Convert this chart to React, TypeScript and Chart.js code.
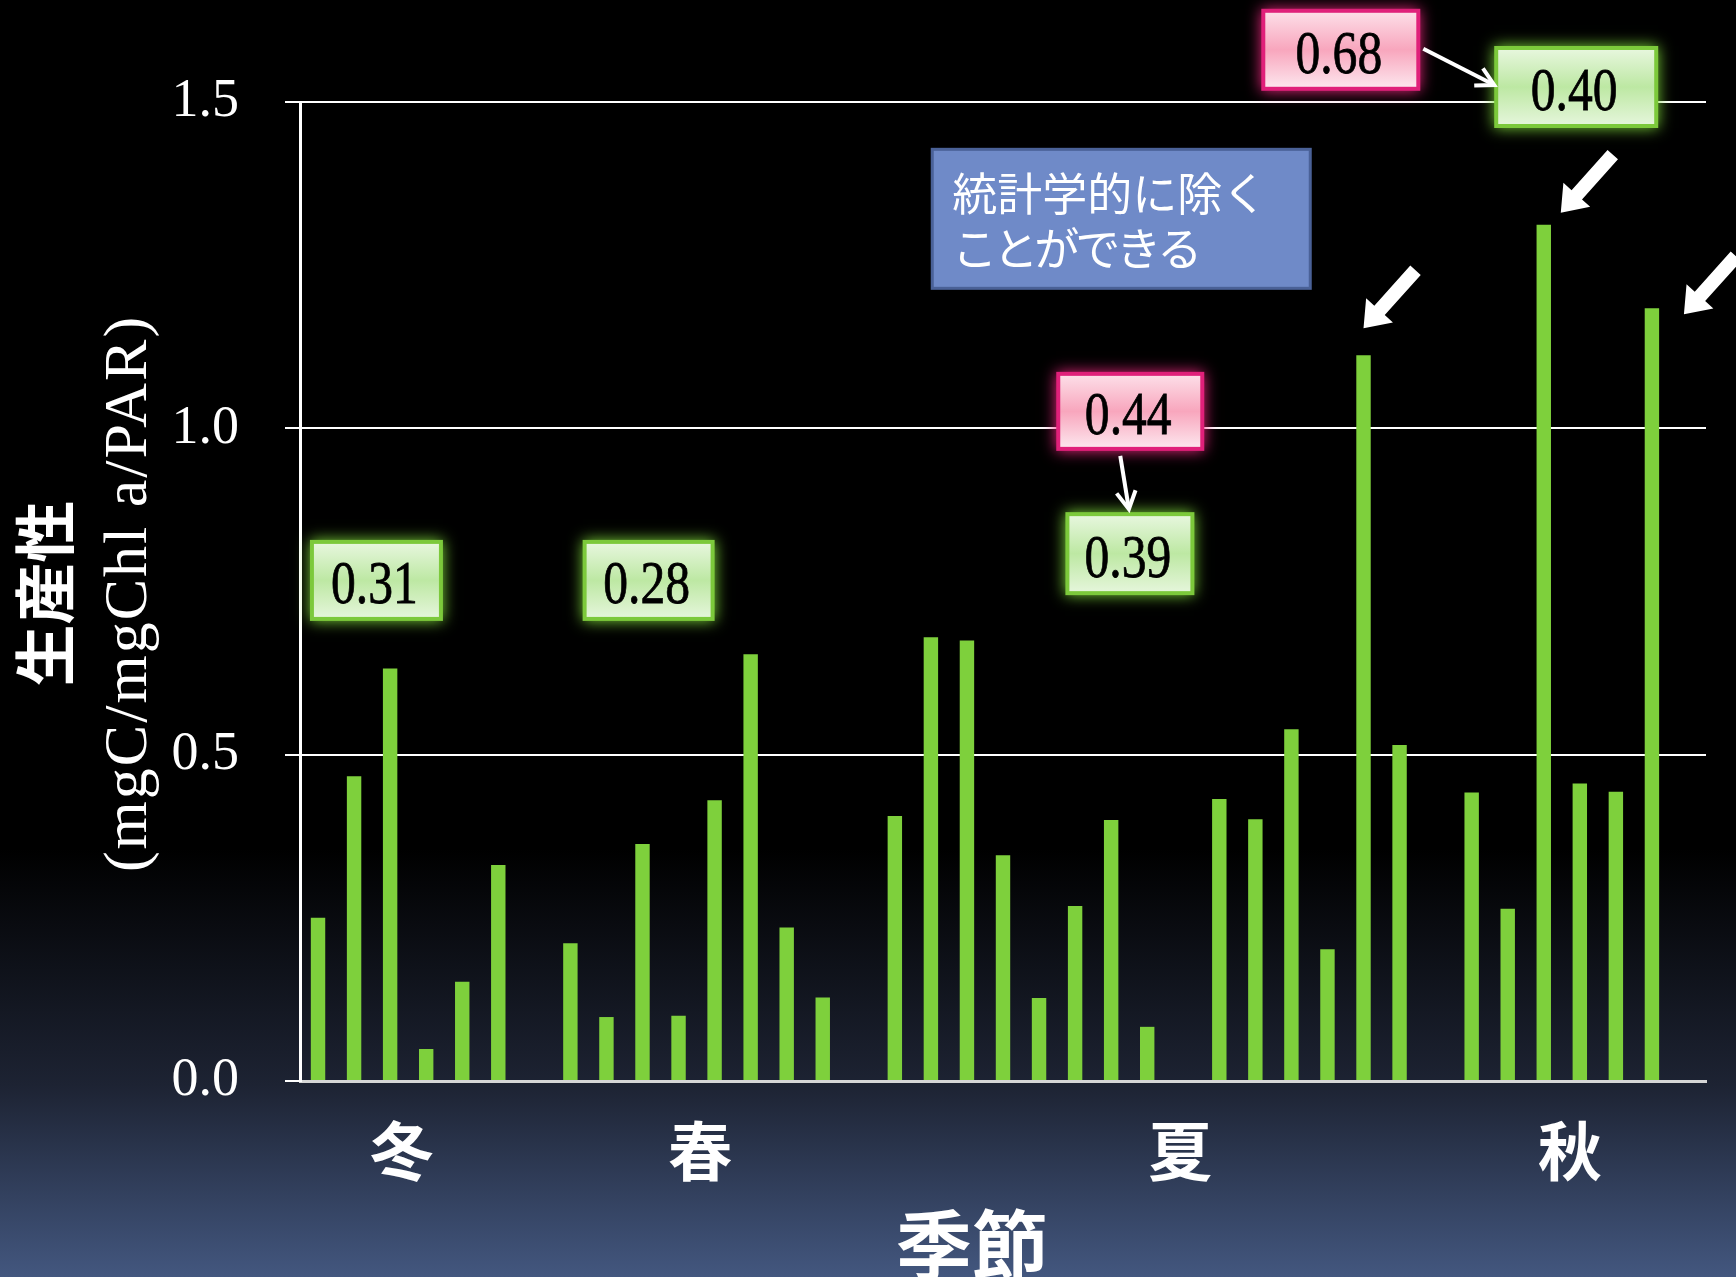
import React, { useEffect, useRef } from 'react';
import { Chart, registerables } from 'chart.js';

Chart.register(...registerables);

// ---------------- data ----------------
const winterValues = [0.25, 0.467, 0.632, 0.049, 0.152, 0.331];
const springValues = [0.211, 0.098, 0.363, 0.1, 0.43, 0.654, 0.235, 0.128];
const summerValues = [0.406, 0.68, 0.675, 0.346, 0.127, 0.268, 0.4, 0.083, null, 0.432, 0.401, 0.539, 0.202, 1.112, 0.515];
const autumnValues = [0.442, 0.264, 1.312, 0.456, 0.443, 1.184];

const seasonNames = ['冬', '春', '夏', '秋'];
const seasonLabelIndex = [2.32, 10.6, 23.92, 34.73];

const yTickValues = [0, 0.5, 1.0, 1.5];
const yTitleMain = '生産性';
const yTitleUnit = '(mgC/mgChl a/PAR)';
const xTitle = '季節';

const noteTexts = ['0.31', '0.28', '0.44', '0.39', '0.68', '0.40'];
const blueNoteLines = ['統計学的に除く', 'ことができる'];
const outlierBars = [29, 34, 37];

// build the category table
const values: (number | null)[] = [
  ...winterValues, null,
  ...springValues, null,
  ...summerValues, null,
  ...autumnValues, null,
];
const categories = values.map((_, i) => `#${i + 1}`);

// ---------------- annotation layout (category index / value anchors) ----------------
const noteLayout = [
  { kind: 'green', ix: 1.62, v: 0.767, w: 129, h: 77 },
  { kind: 'green', ix: 9.17, v: 0.767, w: 128, h: 77 },
  { kind: 'pink', ix: 22.53, v: 1.026, w: 144, h: 75 },
  { kind: 'green', ix: 22.52, v: 0.808, w: 125, h: 79 },
  { kind: 'pink', ix: 28.37, v: 1.58, w: 155, h: 78 },
  { kind: 'green', ix: 34.9, v: 1.523, w: 160, h: 78 },
];
const blueLayout = { ix: 22.28, v: 1.321, w: 378, h: 139 };
const arrowTipOffsets = [
  [0, -27],
  [17, -12],
  [32, 6],
];

type Box = { l: number; t: number; r: number; b: number; cx: number; cy: number };

function drawNoteBox(ctx: CanvasRenderingContext2D, box: Box, kind: string, text: string) {
  const w = box.r - box.l;
  const h = box.b - box.t;
  const isPink = kind === 'pink';
  const border = isPink ? '#e0207a' : '#7cc93b';
  const glow = isPink ? 'rgba(240,40,130,0.95)' : 'rgba(130,220,60,0.95)';
  const g = ctx.createLinearGradient(0, box.t, 0, box.b);
  if (isPink) {
    g.addColorStop(0, '#fde0e9');
    g.addColorStop(0.5, '#f8a6bd');
    g.addColorStop(1, '#fde8ef');
  } else {
    g.addColorStop(0, '#e8f7df');
    g.addColorStop(0.5, '#bde8a3');
    g.addColorStop(1, '#e6f6dc');
  }
  ctx.save();
  ctx.shadowColor = glow;
  ctx.shadowBlur = 14;
  ctx.fillStyle = border;
  ctx.fillRect(box.l - 2, box.t - 2, w + 4, h + 4);
  ctx.restore();
  ctx.save();
  ctx.fillStyle = g;
  ctx.fillRect(box.l + 2, box.t + 2, w - 4, h - 4);
  ctx.fillStyle = '#000';
  ctx.strokeStyle = '#000';
  ctx.lineWidth = 0.8;
  ctx.font = '62px "Liberation Serif"';
  ctx.textAlign = 'center';
  ctx.textBaseline = 'alphabetic';
  ctx.translate(box.cx - 2, box.cy + 23);
  ctx.scale(0.8, 1);
  ctx.fillText(text, 0, 0);
  ctx.strokeText(text, 0, 0);
  ctx.restore();
}

function thinArrow(ctx: CanvasRenderingContext2D, x1: number, y1: number, x2: number, y2: number) {
  const a = Math.atan2(y2 - y1, x2 - x1);
  const hl = 20;
  const sp = 0.5;
  ctx.save();
  ctx.strokeStyle = '#fff';
  ctx.lineWidth = 4;
  ctx.lineCap = 'butt';
  ctx.lineJoin = 'miter';
  ctx.beginPath();
  ctx.moveTo(x1, y1);
  ctx.lineTo(x2 - Math.cos(a) * 2, y2 - Math.sin(a) * 2);
  ctx.stroke();
  ctx.beginPath();
  ctx.moveTo(x2 - hl * Math.cos(a - sp), y2 - hl * Math.sin(a - sp));
  ctx.lineTo(x2, y2);
  ctx.lineTo(x2 - hl * Math.cos(a + sp), y2 - hl * Math.sin(a + sp));
  ctx.stroke();
  ctx.restore();
}

function blockArrow(ctx: CanvasRenderingContext2D, tipX: number, tipY: number, tailX: number, tailY: number) {
  const shaftW = 14;
  const headW = 36;
  const headL = 24;
  const dx = tailX - tipX;
  const dy = tailY - tipY;
  const len = Math.hypot(dx, dy);
  const ux = dx / len;
  const uy = dy / len;
  const px = -uy;
  const py = ux;
  const bx = tipX + ux * headL;
  const by = tipY + uy * headL;
  ctx.save();
  ctx.fillStyle = '#fff';
  ctx.beginPath();
  ctx.moveTo(tipX, tipY);
  ctx.lineTo(bx + (px * headW) / 2, by + (py * headW) / 2);
  ctx.lineTo(bx + (px * shaftW) / 2, by + (py * shaftW) / 2);
  ctx.lineTo(tailX + (px * shaftW) / 2, tailY + (py * shaftW) / 2);
  ctx.lineTo(tailX - (px * shaftW) / 2, tailY - (py * shaftW) / 2);
  ctx.lineTo(bx - (px * shaftW) / 2, by - (py * shaftW) / 2);
  ctx.lineTo(bx - (px * headW) / 2, by - (py * headW) / 2);
  ctx.closePath();
  ctx.fill();
  ctx.restore();
}

const decoPlugin = {
  id: 'deco',
  beforeDraw(chart: any) {
    const { ctx, width, height } = chart;
    const g = ctx.createLinearGradient(0, 0, 0, height);
    g.addColorStop(0, '#000000');
    g.addColorStop(0.665, '#000000');
    g.addColorStop(0.85, '#1d2333');
    g.addColorStop(1, '#43577f');
    ctx.save();
    ctx.fillStyle = g;
    ctx.fillRect(0, 0, width, height);
    ctx.restore();
  },
  afterDraw(chart: any) {
    const { ctx, chartArea: area } = chart;
    const xs = chart.scales.x;
    const ys = chart.scales.y;
    const cy = (area.top + area.bottom) / 2;

    // y axis titles
    ctx.save();
    ctx.fillStyle = '#fff';
    ctx.textAlign = 'center';
    ctx.textBaseline = 'middle';
    ctx.save();
    ctx.translate(area.left - 255, cy + 2);
    ctx.rotate(-Math.PI / 2);
    ctx.font = 'bold 62px "Noto Sans CJK JP"';
    ctx.fillText(yTitleMain, 0, 0);
    ctx.restore();
    ctx.save();
    ctx.translate(area.left - 170, cy + 2);
    ctx.rotate(-Math.PI / 2);
    ctx.font = '62px "Liberation Serif"';
    (ctx as any).letterSpacing = '2px';
    ctx.fillText(yTitleUnit, 0, 0);
    ctx.restore();

    // season labels
    ctx.font = 'bold 64px "Noto Sans CJK JP"';
    seasonNames.forEach((s, i) => {
      ctx.fillText(s, xs.getPixelForValue(seasonLabelIndex[i]), area.bottom + 70);
    });
    // x title
    ctx.font = 'bold 76px "Noto Sans CJK JP"';
    ctx.fillText(xTitle, area.left + (area.right - area.left) * 0.478, area.bottom + 164);
    ctx.restore();

    // note boxes
    const boxes: Box[] = noteLayout.map((n) => {
      const cx = xs.getPixelForValue(n.ix);
      const cyy = ys.getPixelForValue(n.v);
      return { l: cx - n.w / 2, r: cx + n.w / 2, t: cyy - n.h / 2, b: cyy + n.h / 2, cx, cy: cyy };
    });
    boxes.forEach((b, i) => drawNoteBox(ctx, b, noteLayout[i].kind, noteTexts[i]));

    // blue box
    const bcx = xs.getPixelForValue(blueLayout.ix);
    const bcy = ys.getPixelForValue(blueLayout.v);
    const bl = bcx - blueLayout.w / 2;
    const bt = bcy - blueLayout.h / 2;
    ctx.save();
    ctx.fillStyle = '#6f8ac8';
    ctx.fillRect(bl, bt, blueLayout.w, blueLayout.h);
    ctx.strokeStyle = '#4a6197';
    ctx.lineWidth = 3;
    ctx.strokeRect(bl, bt, blueLayout.w, blueLayout.h);
    ctx.fillStyle = '#fff';
    ctx.font = '45px "Noto Sans CJK JP"';
    ctx.textAlign = 'left';
    ctx.textBaseline = 'middle';
    ctx.fillText(blueNoteLines[0], bl + 20, bt + 45);
    (ctx as any).letterSpacing = '-4px';
    ctx.fillText(blueNoteLines[1], bl + 20, bt + 100);
    ctx.restore();

    // thin arrows between boxes (0.44 -> 0.39, 0.68 -> 0.40)
    const p44 = boxes[2];
    const g39 = boxes[3];
    thinArrow(ctx, p44.cx - 10, p44.b + 7, g39.cx - 1, g39.t - 5);
    const p68 = boxes[4];
    const g40 = boxes[5];
    thinArrow(ctx, p68.r + 5, p68.cy - 1, g40.l - 2, g40.cy - 2);

    // thick arrows to outlier bars
    const meta = chart.getDatasetMeta(0);
    outlierBars.forEach((idx, i) => {
      const el = meta.data[idx];
      const tipX = el.x + arrowTipOffsets[i][0];
      const tipY = el.y + arrowTipOffsets[i][1];
      blockArrow(ctx, tipX, tipY, tipX + 52, tipY - 58);
    });
  },
};

export default function App() {
  const canvasRef = useRef<HTMLCanvasElement | null>(null);

  useEffect(() => {
    document.body.style.margin = '0';
    document.body.style.background = '#000';
    document.body.style.overflow = 'hidden';
    const canvas = canvasRef.current;
    if (!canvas) return;
    const chart = new Chart(canvas, {
      type: 'bar',
      data: {
        labels: categories,
        datasets: [
          {
            data: values as any,
            backgroundColor: '#7ED03C',
            borderWidth: 0,
            barPercentage: 0.4,
            categoryPercentage: 1,
          },
        ],
      },
      options: {
        animation: false,
        responsive: false,
        layout: { padding: { top: 102, right: 30, left: 0, bottom: 0 } },
        plugins: {
          legend: { display: false },
          tooltip: { enabled: false },
          title: { display: false },
        },
        scales: {
          x: {
            type: 'category',
            offset: true,
            grid: { display: false, drawTicks: false },
            border: { display: true, color: '#d6d6d6', width: 3 },
            ticks: { display: false },
            afterFit: (s: any) => {
              s.height = 196;
            },
          },
          y: {
            min: 0,
            max: 1.5,
            afterBuildTicks: (s: any) => {
              s.ticks = yTickValues.map((v) => ({ value: v }));
            },
            ticks: {
              color: '#ffffff',
              font: { family: '"Liberation Serif"', size: 54 },
              padding: 46,
              callback: (v: any) => Number(v).toFixed(1),
            },
            grid: { color: '#ffffff', lineWidth: 2, tickLength: 15, drawTicks: true },
            border: { color: '#ffffff', width: 3 },
            afterFit: (s: any) => {
              s.width = 300;
            },
          },
        },
      },
      plugins: [decoPlugin],
    });
    return () => chart.destroy();
  }, []);

  return <canvas ref={canvasRef} width={1736} height={1277} style={{ display: 'block' }} />;
}
